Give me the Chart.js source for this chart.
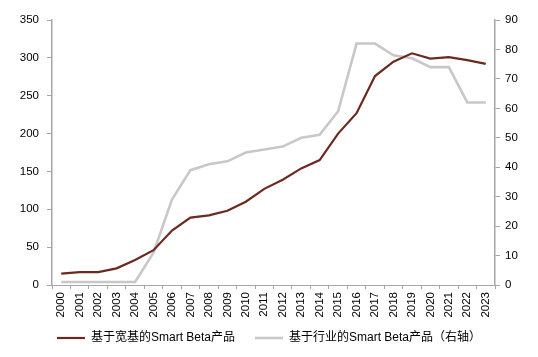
<!DOCTYPE html>
<html>
<head>
<meta charset="utf-8">
<script src="https://cdn.jsdelivr.net/npm/chart.js@4"></script>
<style>
  html, body { margin: 0; padding: 0; background: #ffffff; }
  #wrap { width: 538px; height: 357px; position: relative; }
</style>
</head>
<body>
<div id="wrap"><canvas id="c" width="538" height="357"></canvas></div>
<script>
const years = ['2000','2001','2002','2003','2004','2005','2006','2007','2008','2009','2010','2011','2012','2013','2014','2015','2016','2017','2018','2019','2020','2021','2022','2023'];
const broadBased = [15, 17, 17, 22, 33, 46, 72, 89, 92, 98, 110, 127, 139, 154, 165, 200, 227, 276, 295, 306, 299, 301, 297, 292];
const industryBased = [1, 1, 1, 1, 1, 11, 29, 39, 41, 42, 45, 46, 47, 50, 51, 59, 82, 82, 78, 77, 74, 74, 62, 62];
const leftTicksMax = 350;
const rightTicksMax = 90;
const seriesNames = ['基于宽基的Smart Beta产品', '基于行业的Smart Beta产品（右轴）'];

const axisColor = '#A6A6A6';
const fontFam = '"Liberation Sans", Arial, "Noto Sans CJK SC", sans-serif';

new Chart(document.getElementById('c'), {
  type: 'line',
  data: {
    labels: years,
    datasets: [
      {
        label: seriesNames[0],
        data: broadBased,
        yAxisID: 'y',
        borderColor: '#6B2A20',
        backgroundColor: '#6B2A20',
        borderWidth: 2.2,
        pointRadius: 0,
        tension: 0
      },
      {
        label: seriesNames[1],
        data: industryBased,
        yAxisID: 'y1',
        borderColor: '#C8C8C8',
        backgroundColor: '#C8C8C8',
        borderWidth: 2.6,
        pointRadius: 0,
        tension: 0
      }
    ]
  },
  options: {
    responsive: false,
    animation: false,
    layout: { padding: { top: 20, left: 0, right: 0, bottom: 3 } },
    plugins: {
      legend: {
        position: 'bottom',
        labels: {
          usePointStyle: true,
          pointStyle: 'line',
          pointStyleWidth: 28,
          boxWidth: 28,
          padding: 10,
          color: '#000',
          font: { family: fontFam, size: 12 },
          generateLabels: (chart) => {
            const items = Chart.defaults.plugins.legend.labels.generateLabels(chart);
            items[0].text = items[0].text + '   ';
            return items;
          }
        }
      },
      tooltip: { enabled: false }
    },
    scales: {
      x: {
        type: 'category',
        offset: true,
        afterFit: (s) => { s.height = 37; },
        grid: { display: true, drawOnChartArea: false, offset: true, tickLength: 4, color: axisColor, tickColor: axisColor },
        border: { display: true, color: axisColor, width: 1 },
        ticks: {
          autoSkip: false, maxRotation: 90, minRotation: 90, padding: 3,
          color: '#000', font: { family: fontFam, size: 11.5 }
        }
      },
      y: {
        position: 'left',
        min: 0, max: leftTicksMax,
        afterFit: (s) => { s.width = 52; },
        grid: { display: true, drawOnChartArea: false, tickLength: 5, color: axisColor, tickColor: axisColor },
        border: { display: true, color: axisColor, width: 1.5 },
        ticks: { stepSize: 50, padding: 8, color: '#000', font: { family: fontFam, size: 11.5 } }
      },
      y1: {
        position: 'right',
        min: 0, max: rightTicksMax,
        afterFit: (s) => { s.width = 43; },
        grid: { display: true, drawOnChartArea: false, tickLength: 5, color: axisColor, tickColor: axisColor },
        border: { display: true, color: axisColor, width: 1.5 },
        ticks: { stepSize: 10, padding: 5, color: '#000', font: { family: fontFam, size: 11.5 } }
      }
    }
  }
});
</script>
</body>
</html>
